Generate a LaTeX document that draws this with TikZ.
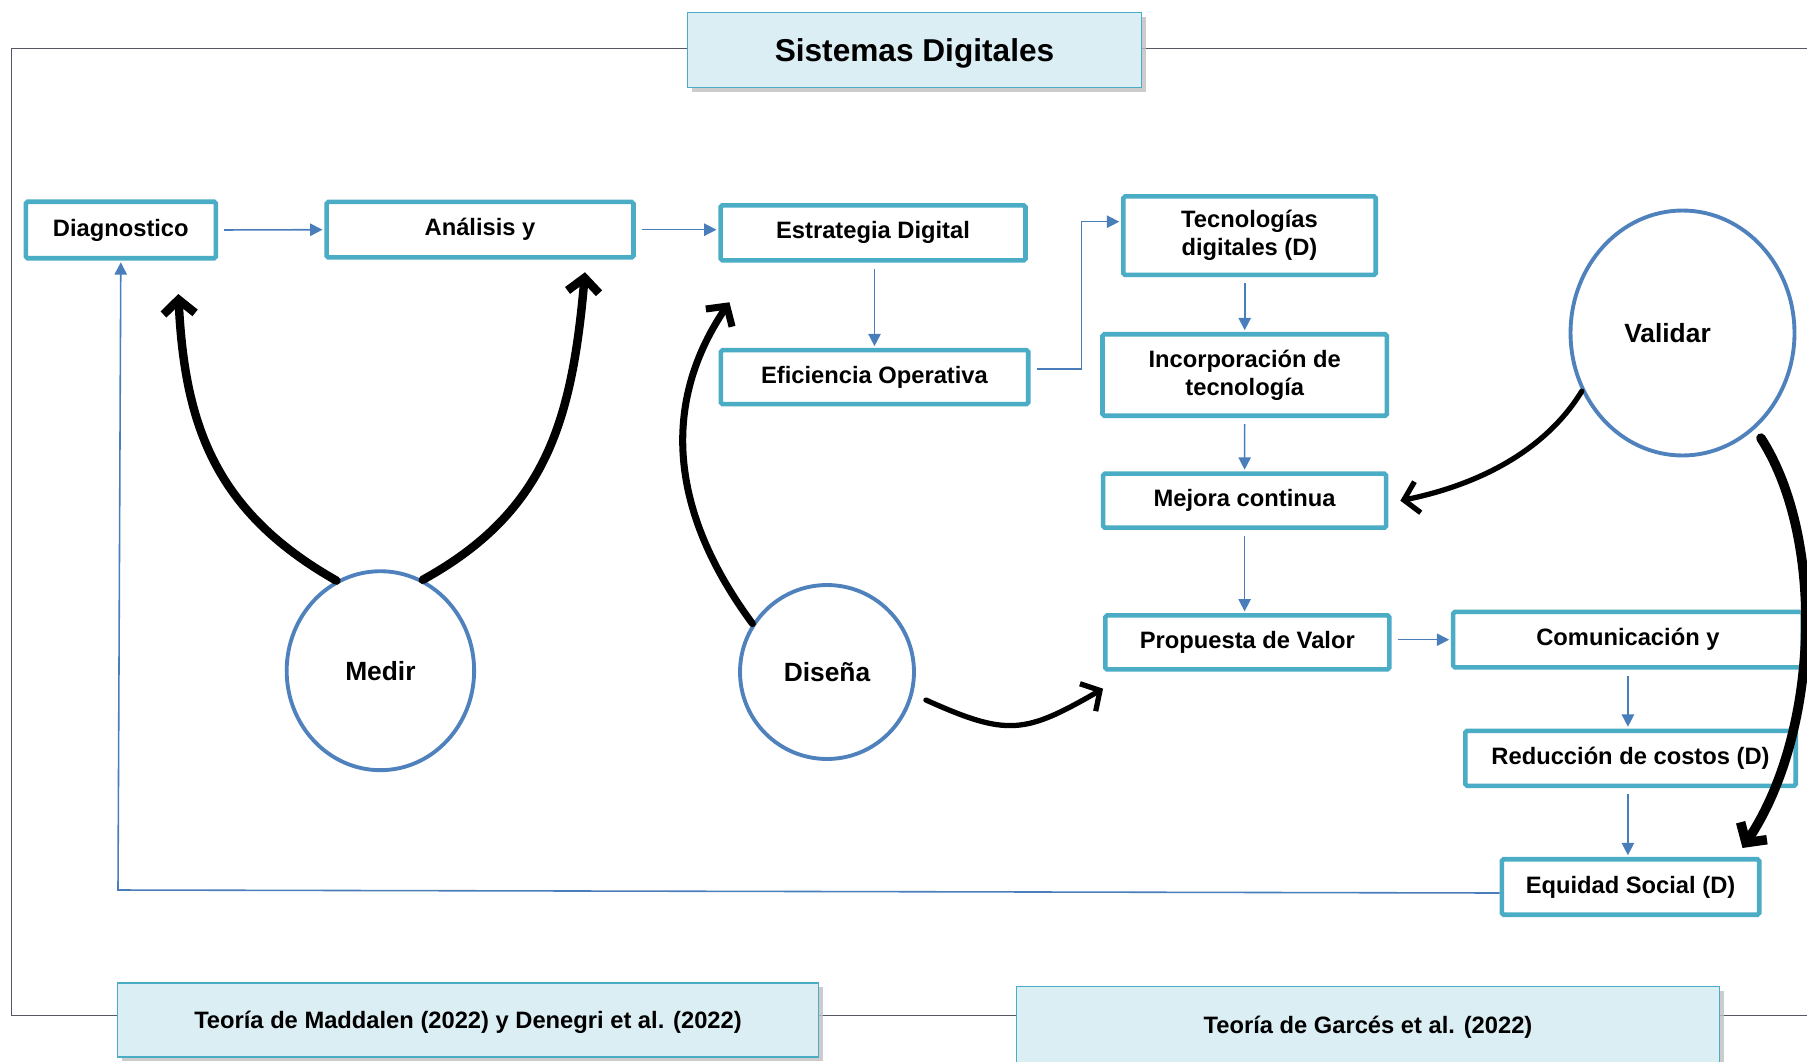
\documentclass[tikz,border=0pt]{standalone}
\usepackage{fontspec}
\setmainfont{Liberation Sans}
\usetikzlibrary{shapes.geometric, arrows.meta, shadows}
\definecolor{boxcyan}{RGB}{75,172,198}
\definecolor{ringblue}{RGB}{79,129,189}
\definecolor{linkblue}{RGB}{74,126,187}
\definecolor{headfill}{RGB}{219,238,244}
\definecolor{framegray}{RGB}{85,88,100}

\begin{document}
\begin{tikzpicture}[x=0.02cm, y=-0.02cm,
    stepbox/.style={draw=boxcyan, line width=2.6pt, rounded corners=1pt, fill=white,
      inner sep=0pt, align=center, font=\fontsize{13.5}{16}\selectfont\bfseries},
    headbox/.style={draw=boxcyan, line width=1pt, fill=headfill, inner sep=0pt, align=center,
      text depth=0pt, font=\fontsize{13.5}{16}\selectfont\bfseries,
      drop shadow={shadow xshift=2.5pt, shadow yshift=-2.5pt, fill=black!25, opacity=0.8}},
    phase/.style={ellipse, draw=ringblue, line width=2.2pt, fill=white, inner sep=0pt,
      font=\fontsize{15}{18}\selectfont\bfseries},
    link/.style={draw=linkblue, line width=0.9pt, shorten <=3.5pt, shorten >=1pt,
      -{Triangle[length=7pt,width=7pt]}},
    sweep/.style={draw=black, line width=#1, line cap=round,
      -{Straight Barb[length=8pt,width=18pt]}},
    sweep/.default=3.4pt
  ]
  \useasboundingbox (0,0) rectangle (1807,1061);

  %% Outer frame
  \draw[framegray, line width=0.6pt] (1812,48.4) -- (11.5,48.4) -- (11.5,1015.3) -- (1812,1015.3);

  %% Header and theory boxes
  \node[headbox, minimum width=9.08cm, minimum height=1.50cm,
    font=\fontsize{18}{22}\selectfont\bfseries] (title) at (914.5,50) {Sistemas Digitales};
  \node[headbox, minimum width=14.02cm, minimum height=1.48cm] (teoa) at (468,1020)
    {Teoría de Maddalen (2022) y Denegri et al. (2022)};
  \node[headbox, minimum width=14.06cm, minimum height=1.52cm] (teob) at (1368,1024.5)
    {Teoría de Garcés et al. (2022)};

  %% Process boxes
  \node[stepbox, minimum width=3.80cm, minimum height=1.13cm] (diag) at (120.8,230) {Diagnostico};
  \node[stepbox, minimum width=6.14cm, minimum height=1.11cm] (anal) at (480,229.7) {Análisis y};
  \node[stepbox, minimum width=6.10cm, minimum height=1.10cm] (estr) at (873,232.8) {Estrategia Digital};
  \node[stepbox, minimum width=6.15cm, minimum height=1.08cm] (effi) at (874.5,377.2) {Eficiencia Operativa};
  \node[stepbox, minimum width=5.05cm, minimum height=1.57cm] (tecn) at (1249.5,235.7) {Tecnologías\\digitales (D)};
  \node[stepbox, minimum width=5.69cm, minimum height=1.63cm] (inco) at (1244.7,375) {Incorporación de\\tecnología};
  \node[stepbox, minimum width=5.66cm, minimum height=1.08cm] (mejo) at (1244.6,500.7) {Mejora continua};
  \node[stepbox, minimum width=5.68cm, minimum height=1.08cm] (prop) at (1247.3,642.4) {Propuesta de Valor};
  \node[stepbox, minimum width=6.99cm, minimum height=1.11cm] (comu) at (1627.9,639.7) {Comunicación y};
  \node[stepbox, minimum width=6.61cm, minimum height=1.10cm] (redu) at (1630.5,758.3) {Reducción de costos (D)};
  \node[stepbox, minimum width=5.15cm, minimum height=1.11cm] (equi) at (1630.5,887) {Equidad Social (D)};

  %% Phases
  \node[phase, minimum width=3.75cm, minimum height=3.98cm] (medi) at (380.4,670.7) {Medir};
  \node[phase, minimum width=3.48cm, minimum height=3.48cm] (dise) at (827,672) {Diseña};
  \node[phase, minimum width=4.48cm, minimum height=4.90cm] (vali) at (1682.5,333) {Validar\hspace*{0.6cm}};

  %% Blue flow
  \draw[link] (diag.east) -- (anal.west);
  \draw[link] (anal.east) -- (anal.east -| estr.west);
  \draw[link] (estr.south -| effi.north) -- (effi.north);
  \draw[link] ([shift={(0,-8)}]effi.east) -- ++(51,0) |- ([shift={(0,-14)}]tecn.west);
  \draw[link] (inco.north |- tecn.south) -- (inco.north);
  \draw[link] (inco.south) -- (mejo.north);
  \draw[link] (mejo.south) -- (mejo.south |- prop.north);
  \draw[link] (comu.west -| prop.east) -- (comu.west);
  \draw[link] (comu.south) -- (comu.south |- redu.north);
  \draw[link] (redu.south -| comu.south) -- (equi.north -| comu.south);

  %% Return to diagnostico
  \coordinate (retorno) at (118,890);
  \draw[link, shorten <=0pt] ([shift={(0,6)}]equi.west) -- (retorno) -- (diag.south);

  %% Black sweeps
  \draw[sweep=4.8pt] (medi.116) .. controls +(-122,-69) and +(6.5,130) .. ([shift={(57.5,33.5)}]diag.south);
  \draw[sweep=4.8pt] (medi.65) .. controls +(122.6,-67.6) and +(-13.2,150) .. ([shift={(105,12.5)}]anal.south);
  \draw[sweep=4pt] (dise.147) .. controls +(-77.4,-104.5) and +(-72.8,107.9) .. ([shift={(11.2,39.7)}]estr.south west);
  \draw[sweep=3pt] ([shift={(10,28)}]dise.east) .. controls +(81.9,36.9) and +(-78.3,45) .. ([shift={(0,17)}]prop.south west);
  \draw[sweep=3pt] (vali.210) .. controls +(-36.4,59.5) and +(78.4,-16) .. ([shift={(12,0)}]mejo.east);
  \draw[sweep=5.4pt] ([shift={(6,9)}]vali.-53) .. controls +(64.8,100.8) and +(77,-116.2) .. ([shift={(-19,-9)}]equi.north east);
\end{tikzpicture}
\end{document}
